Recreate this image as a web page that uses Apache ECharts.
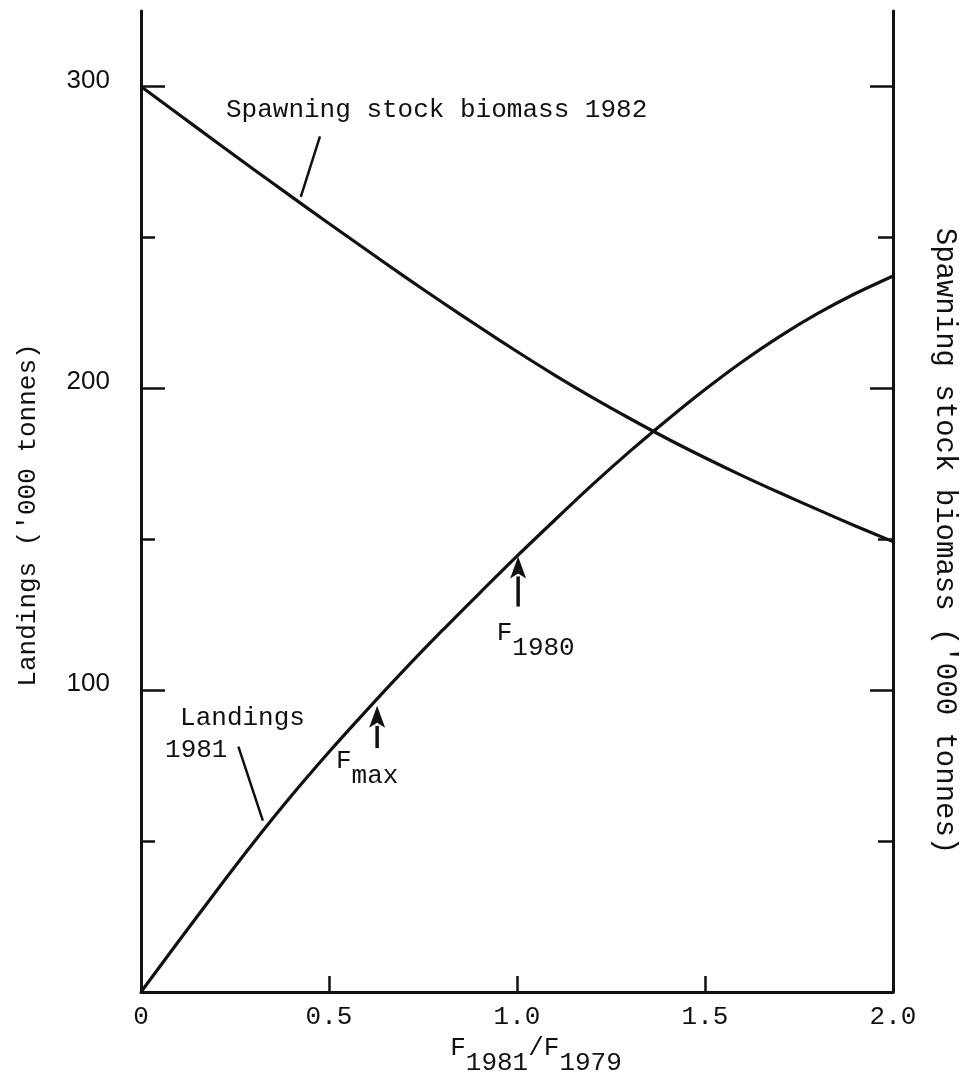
<!DOCTYPE html>
<html><head><meta charset="utf-8">
<script src="https://cdn.jsdelivr.net/npm/echarts@6/dist/echarts.min.js"></script>
<style>html,body{margin:0;padding:0;background:#fff}#c{width:964px;height:1080px}</style>
</head><body><div id="c"></div>
<script>
// ---- data ----
const fRatio = [0,0.1,0.2,0.3,0.4,0.5,0.6,0.7,0.8,0.9,1.0,1.1,1.2,1.3,1.4,1.5,1.6,1.7,1.8,1.9,2.0];
const landings1981 = [0,16.8,33.4,49.6,65,79.5,93.3,106.7,119.6,132.1,144.4,156.3,168,179.1,189.6,199.6,208.9,217.3,224.8,231.4,237.2];
const ssb1982 = [300,290.8,281.6,272.5,263.5,254.6,245.8,237.1,228.6,220.3,212.2,204.4,197,190,183.3,177,171,165.3,159.8,154.4,149.2];
const xTickValues = [0,0.5,1.0,1.5,2.0];
const xTickLabels = ['0','0.5','1.0','1.5','2.0'];
const yMajorTicks = [100,200,300];
const yMinorTicks = [50,150,250];
const yTickLabels = ['100','200','300'];

// ---- annotation anchors (data coordinates) ----
const arrows = [
  {x:0.628, from:80.8, to:94.8},
  {x:1.003, from:127.7, to:144.3}
];
const leaders = [
  {from:[0.476,283.5], to:[0.425,263.4]},
  {from:[0.259,81.3], to:[0.324,56.8]}
];
const notes = [
  {at:[0.226,292.2], text:'Spawning stock biomass 1982'},
  {at:[0.104,90.8], text:'Landings'},
  {at:[0.064,80.2], text:'1981'}
];
const subNotes = [
  {at:[0.5186,76.5], main:'F', sub:'max'},
  {at:[0.946,119], main:'F', sub:'1980'}
];

const FONT = 'Liberation Mono';
const SANS = 'Liberation Sans';
const INK = '#111';
const rich = {
  f:{fontFamily:FONT,fontSize:26,color:INK,lineHeight:26,verticalAlign:'top'},
  s:{fontFamily:FONT,fontSize:26,color:INK,lineHeight:41,verticalAlign:'bottom'}
};

const chart = echarts.init(document.getElementById('c'), null, {renderer:'canvas'});
const baseY = {
  type:'value', min:0, max:325, splitLine:{show:false},
  axisLine:{show:false}, axisLabel:{show:false}
};
const option = {
  backgroundColor:'#fff',
  animation:false,
  grid:{left:141, right:71, top:11, bottom:88, containLabel:false, outerBoundsMode:'none'},
  xAxis:{
    type:'value', min:0, max:2, interval:0.5,
    splitLine:{show:false},
    axisLine:{lineStyle:{color:INK,width:3}},
    axisTick:{inside:true,length:16,customValues:[0.5,1,1.5],lineStyle:{color:INK,width:2.5}},
    axisLabel:{customValues:xTickValues,
      formatter:v=>xTickLabels[xTickValues.indexOf(v)] ?? '',
      fontFamily:FONT,fontSize:26,color:INK,margin:12},
    name:'{f|F}{s|1981}{f|/F}{s|1979}',
    nameLocation:'middle', nameGap:42,
    nameTextStyle:{rich:rich,padding:[0,0,0,38]}
  },
  yAxis:[
    Object.assign({}, baseY, {
      position:'left',
      axisLine:{show:true,onZero:false,lineStyle:{color:INK,width:3}},
      axisTick:{inside:true,length:24,customValues:yMajorTicks,lineStyle:{color:INK,width:2.5}},
      axisLabel:{show:true,customValues:yMajorTicks,
        formatter:v=>yTickLabels[yMajorTicks.indexOf(v)] ?? '',
        fontFamily:SANS,fontSize:26,color:INK,margin:31,lineHeight:12,verticalAlign:'bottom'},
      name:"Landings ('000 tonnes)", nameLocation:'middle', nameRotate:90, nameGap:100,
      nameTextStyle:{fontFamily:FONT,fontSize:26,color:INK,padding:[0,27,0,0]}
    }),
    Object.assign({}, baseY, {
      position:'left',
      axisTick:{show:true,inside:true,length:14,customValues:yMinorTicks,lineStyle:{color:INK,width:2.5}}
    }),
    Object.assign({}, baseY, {
      position:'right',
      axisLine:{show:true,onZero:false,lineStyle:{color:INK,width:3}},
      axisTick:{show:true,inside:true,length:23,customValues:yMajorTicks,lineStyle:{color:INK,width:2.5}},
      name:"Spawning stock biomass ('000 tonnes)", nameLocation:'middle', nameRotate:-90, nameGap:37,
      nameTextStyle:{fontFamily:FONT,fontSize:29,color:INK,padding:[0,0,0,79]}
    }),
    Object.assign({}, baseY, {
      position:'right',
      axisTick:{show:true,inside:true,length:15,customValues:yMinorTicks,lineStyle:{color:INK,width:2.5}}
    })
  ],
  series:[
    {name:'Spawning stock biomass 1982', type:'line', yAxisIndex:0, smooth:0.3, showSymbol:false,
     lineStyle:{color:INK,width:3.2}, data:fRatio.map((x,i)=>[x,ssb1982[i]])},
    {name:'Landings 1981', type:'line', yAxisIndex:0, smooth:0.3, showSymbol:false,
     lineStyle:{color:INK,width:3.2}, data:fRatio.map((x,i)=>[x,landings1981[i]])}
  ]
};
chart.setOption(option);

function px(pt){ return chart.convertToPixel({xAxisIndex:0,yAxisIndex:0}, pt); }
const g = [];
leaders.forEach(l=>{
  const a=px(l.from), b=px(l.to);
  g.push({type:'line',shape:{x1:a[0],y1:a[1],x2:b[0],y2:b[1]},style:{stroke:INK,lineWidth:2.5}});
});
arrows.forEach(a=>{
  const b=px([a.x,a.from]), t=px([a.x,a.to]);
  const hh=22, hw=8;
  g.push({type:'line',shape:{x1:b[0],y1:b[1],x2:t[0],y2:t[1]+hh-2},style:{stroke:INK,lineWidth:3.5}});
  g.push({type:'polygon',shape:{points:[[t[0],t[1]],[t[0]-hw,t[1]+hh],[t[0],t[1]+hh-5],[t[0]+hw,t[1]+hh]]},style:{fill:INK}});
});
notes.forEach(n=>{
  const p=px(n.at);
  g.push({type:'text',x:p[0],y:p[1],style:{text:n.text,fontFamily:FONT,fontSize:26,fill:INK,align:'left',verticalAlign:'middle'}});
});
subNotes.forEach(n=>{
  const p=px(n.at);
  g.push({type:'text',x:p[0],y:p[1]-13,style:{text:'{f|'+n.main+'}{s|'+n.sub+'}',rich:rich,fontFamily:FONT,fontSize:26,fill:INK,align:'left',verticalAlign:'top'}});
});
chart.setOption({graphic:g});
</script></body></html>
